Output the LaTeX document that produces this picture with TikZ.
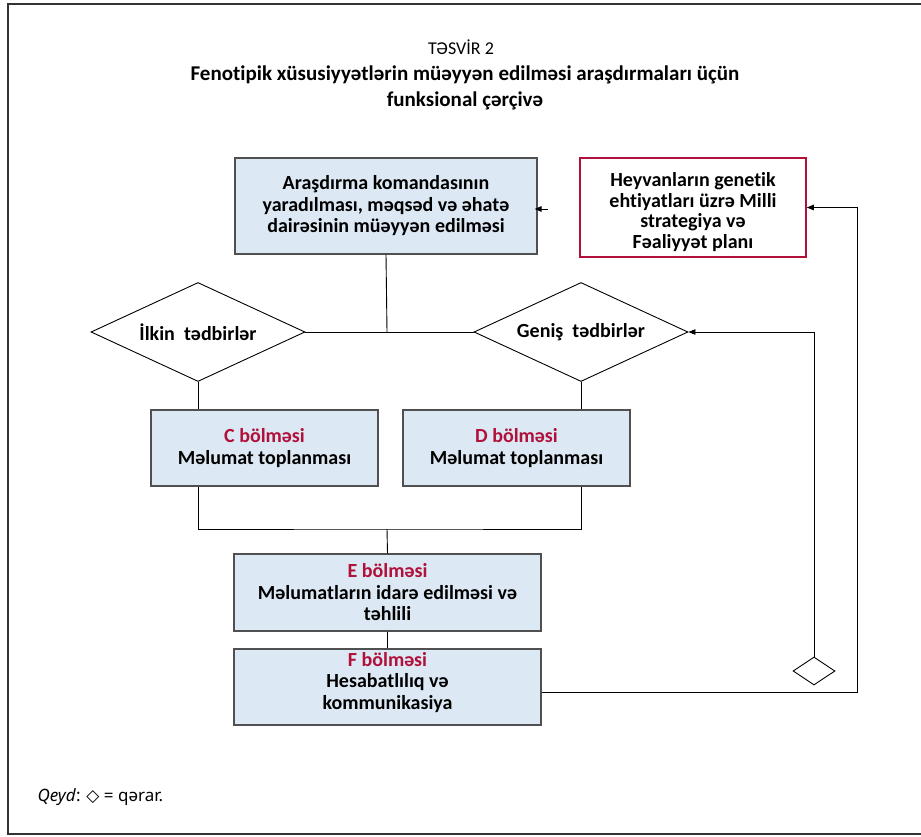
\documentclass[tikz,border=0pt]{standalone}
\usepackage{fontspec}
\setmainfont{Carlito}[Ligatures=NoCommon]
\newfontfamily\notefont{Noto Sans}
\newfontfamily\symfont{DejaVu Sans}
\usetikzlibrary{shapes.geometric,arrows.meta}
\definecolor{boxfill}{HTML}{DCE8F3}
\definecolor{boxline}{HTML}{505050}
\definecolor{secred}{HTML}{B0103A}
\tikzset{
  bluebox/.style={draw=boxline,line width=1.2pt,fill=boxfill,align=center,inner sep=0pt,font=\fontsize{20}{21.5}\selectfont\bfseries},
  redbox/.style={draw=secred,line width=1.6pt,fill=white,inner sep=0pt},
  boxtext/.style={align=center,inner sep=0pt,font=\fontsize{20}{20.5}\selectfont\bfseries},
  decision/.style={draw=black,line width=0.9pt,diamond,aspect=2.16,inner sep=0pt,font=\fontsize{20}{23}\selectfont\bfseries},
  conn/.style={draw=black,line width=0.9pt},
  arr/.style={conn,-{Triangle[length=7pt,width=5.5pt]}},
}
\begin{document}
\begin{tikzpicture}[x=1pt,y=-1pt]
\useasboundingbox (0,0) rectangle (921,837);
% frame
\draw[line width=1.4pt,draw=black!80] (921,4) -- (8,4) -- (8,834) -- (921,834);
% titles
\node (t1) at (461,47) {\fontsize{18}{20}\selectfont TƏSVİR 2};
\node[align=center,font=\fontsize{21}{26}\selectfont\bfseries] (t2) at (465,88) {Fenotipik xüsusiyyətlərin müəyyən edilməsi araşdırmaları üçün\\funksional çərçivə};
% boxes
\node[bluebox,minimum width=302pt,minimum height=96pt] (top) at (386,206) {Araşdırma komandasının\\yaradılması, məqsəd və əhatə\\dairəsinin müəyyən edilməsi};
\node[redbox,minimum width=226pt,minimum height=99pt] (nat) at (693,207.5) {};
\node[boxtext] (natt) at (693,212) {Heyvanların genetik\\ehtiyatları üzrə Milli\\strategiya və\\Fəaliyyət planı};
\node[decision,minimum width=214pt,minimum height=99pt] (ilk) at (198,332) {İlkin\ \ tədbirlər};
\node[decision,minimum width=214pt,minimum height=99pt] (gen) at (581,332) {Geniş\ \ tədbirlər};
\node[bluebox,minimum width=227pt,minimum height=76pt] (C) at (264.5,448) {\textcolor{secred}{C bölməsi}\\Məlumat toplanması};
\node[bluebox,minimum width=227pt,minimum height=76pt] (D) at (516.5,448) {\textcolor{secred}{D bölməsi}\\Məlumat toplanması};
\node[bluebox,minimum width=307pt,minimum height=77pt] (E) at (387.5,592.5) {\textcolor{secred}{E bölməsi}\\Məlumatların idarə edilməsi və\\təhlili};
\node[bluebox,minimum width=307pt,minimum height=76pt] (F) at (387.5,687) {};
\node[boxtext,font=\fontsize{20}{21.5}\selectfont\bfseries] (Ft) at (387.5,682.5) {\textcolor{secred}{F bölməsi}\\Hesabatlılıq və\\kommunikasiya};
\node[draw=black,line width=0.9pt,diamond,inner sep=0pt,minimum width=42pt,minimum height=28pt] (q) at (814,671) {};
% junction coordinates
\coordinate (j1) at (387,332);
\coordinate (j2) at (387,529);
\coordinate (na) at (547.5,209);
% connectors
\draw[conn] (top.south) -- (j1);
\draw[conn] (ilk.east) -- (gen.west);
\draw[conn] (ilk.south) -- (C.north -| ilk.south);
\draw[conn] (gen.south) -- (D.north -| gen.south);
\draw[conn] (C.south -| ilk.south) |- (j2) -| (D.south -| gen.south);
\draw[conn] (j2) -- (E.north);
\draw[conn] (E.south) -- (F.north);
\draw[arr] ([yshift=-5pt]F.east) -- (857,692) |- (nat.east);
\draw[arr] (q.north) |- (gen.east);
\draw[arr,shorten >=-3pt] (na) -- (top.east |- na);
% note
\node[anchor=west,font=\notefont\fontsize{17}{20}\selectfont] (note) at (34,797) {\textit{Qeyd}: {\symfont ◇} = qərar.};
\end{tikzpicture}
\end{document}
